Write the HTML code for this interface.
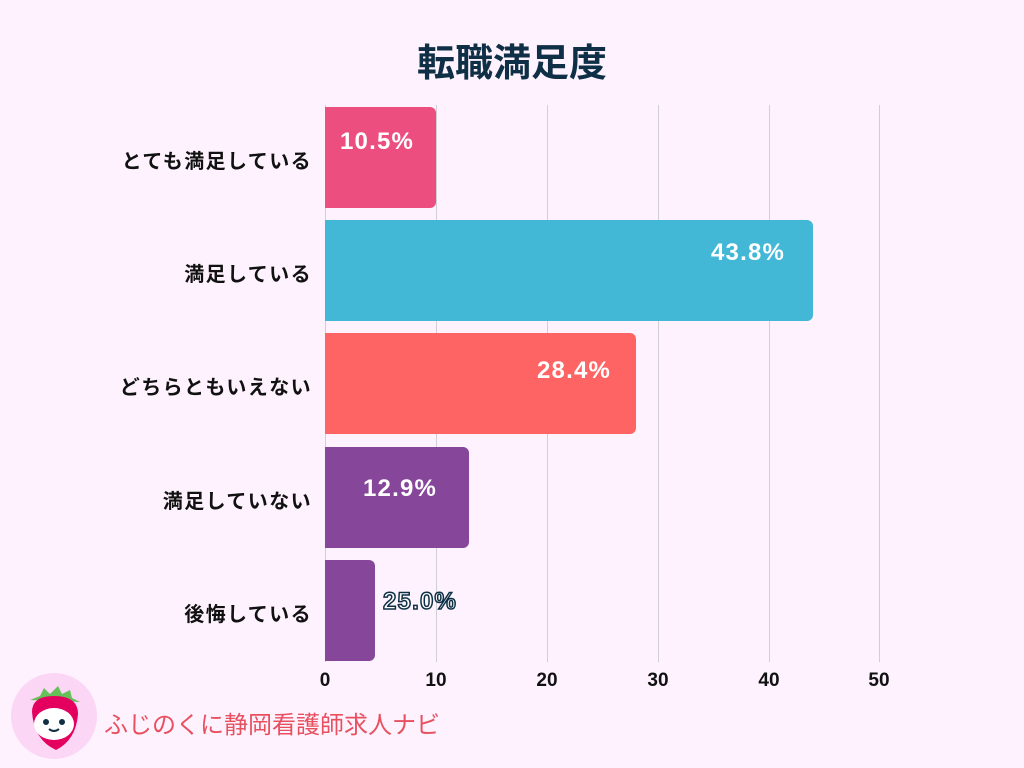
<!DOCTYPE html>
<html><head><meta charset="utf-8"><style>
body{margin:0;width:1024px;height:768px;background:#fdf2fd;position:relative;overflow:hidden;font-family:"Liberation Sans","Noto Sans CJK JP",sans-serif}
.t{position:absolute;left:0;width:1024px;top:32px;text-align:center;font-size:38px;font-weight:bold;color:#0e2f45}
.g{position:absolute;top:105px;height:557px;width:1px;background:#cfcfd4}
.b{position:absolute;left:325px;height:101px;border-radius:0 6px 6px 0}
.v{position:absolute;color:#fff;font-weight:bold;font-size:24px;letter-spacing:1.2px}
.l{position:absolute;right:712px;font-weight:bold;font-size:20px;letter-spacing:1.4px;color:#111;text-align:right;white-space:nowrap}
.x{position:absolute;top:670px;font-weight:bold;font-size:19px;color:#111;width:40px;margin-left:-20px;text-align:center}
</style></head><body>
<div class="t">転職満足度</div>
<div class="g" style="left:325px"></div><div class="g" style="left:436px"></div><div class="g" style="left:547px"></div><div class="g" style="left:658px"></div><div class="g" style="left:769px"></div><div class="g" style="left:879px"></div>
<div class="b" style="top:107px;width:111px;background:#ec4e80"></div>
<div class="b" style="top:220px;width:488px;background:#42b8d6"></div>
<div class="b" style="top:333px;width:311px;background:#ff6464"></div>
<div class="b" style="top:447px;width:144px;background:#86469a"></div>
<div class="b" style="top:560px;width:50px;background:#86469a"></div>
<div class="v" style="left:340px;top:128px">10.5%</div>
<div class="v" style="left:711px;top:239px">43.8%</div>
<div class="v" style="left:537px;top:357px">28.4%</div>
<div class="v" style="left:363px;top:475px">12.9%</div>
<div class="v" style="left:383px;top:588px;-webkit-text-stroke:1.5px #0e2f45">25.0%</div>
<div class="l" style="top:145px">とても満足している</div>
<div class="l" style="top:258px">満足している</div>
<div class="l" style="top:371px">どちらともいえない</div>
<div class="l" style="top:485px">満足していない</div>
<div class="l" style="top:598px">後悔している</div>
<div class="x" style="left:325px">0</div><div class="x" style="left:436px">10</div><div class="x" style="left:547px">20</div><div class="x" style="left:658px">30</div><div class="x" style="left:769px">40</div><div class="x" style="left:879px">50</div>
<svg style="position:absolute;left:10px;top:672px" width="88" height="88" viewBox="0 0 88 88">
<circle cx="44" cy="44" r="43" fill="#fcd6f5"/>
<path d="M20 28 L30 24 L34 16 L40 22 L48 14 L52 22 L60 18 L62 26 L70 30 Z" fill="#66c05a"/>
<path d="M22 40 Q22 24 44 24 Q68 24 68 42 Q66 68 46 78 Q24 68 22 40Z" fill="#e4005f"/>
<ellipse cx="44" cy="52" rx="20" ry="16" fill="#fff"/>
<circle cx="36" cy="50" r="3" fill="#0e2f45"/><circle cx="52" cy="50" r="3" fill="#0e2f45"/>
<path d="M39 57 Q44 61 49 57" stroke="#0e2f45" stroke-width="2" fill="none"/>
</svg>
<div style="position:absolute;left:104px;top:705px;font-size:24px;color:#e85060">ふじのくに静岡看護師求人ナビ</div>
</body></html>
